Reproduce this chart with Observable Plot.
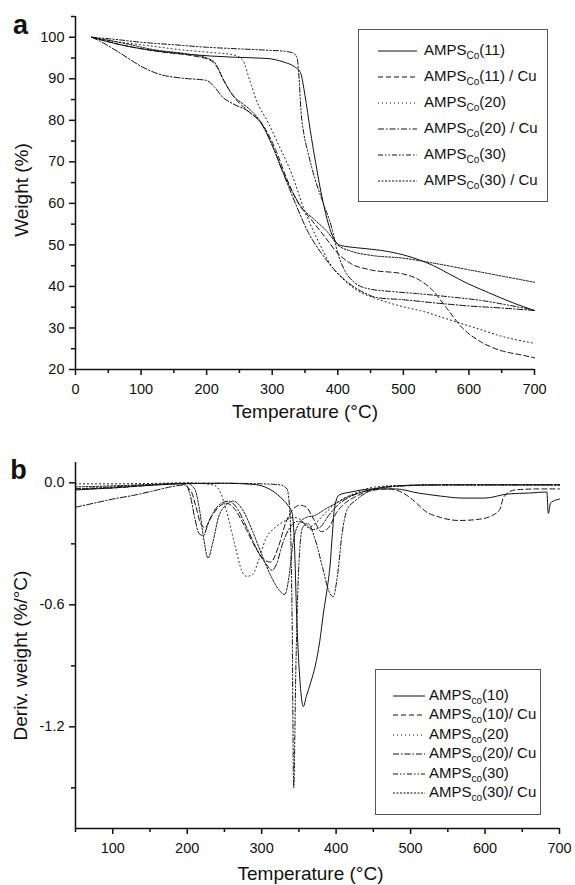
<!DOCTYPE html>
<html><head><meta charset="utf-8">
<script src="https://cdn.jsdelivr.net/npm/d3@7"></script>
<script src="https://cdn.jsdelivr.net/npm/@observablehq/plot@0.6"></script>
<style>
body{margin:0;background:#fff;}
#wrap{position:relative;width:575px;height:885px;font-family:"Liberation Sans",Arial,Helvetica,sans-serif;color:#111;overflow:hidden;}
.plot{position:absolute;left:0;}
.legend{position:absolute;border:1px solid #555;box-sizing:border-box;background:#fff;}
.row{position:absolute;left:0;right:0;height:0;}
.row svg{position:absolute;top:-3px;overflow:visible;}
.row span{position:absolute;top:0;font-size:15px;line-height:15px;transform:translateY(-60%);white-space:nowrap;}
.row sub{font-size:10px;vertical-align:-4px;line-height:0;}
</style></head><body><div id="wrap"></div>
<script>
// ---------- panel a: TGA ----------
const tgaNames = ["(11)", "(11) / Cu", "(20)", "(20) / Cu", "(30)", "(30) / Cu"];
const tga11 = [[25,100],[60,98.5],[114,96.9],[170,95.9],[241,95.2],[292,94.9],[318,94],[333,93],[343,91.5],[350,86],[358,77.6],[366,70],[374,63],[384,56],[393,51.8],[404,49.9],[430,49.3],[465,48.7],[500,47.6],[526,46.3],[546,45],[570,43],[598,40.7],[630,38.5],[668,36],[700,34.2]];
const tga11Cu = [[25,100],[75,98],[130,96.5],[180,95.5],[205,94.5],[215,93],[228,89],[245,85],[265,82],[285,79],[305,73],[322,66],[340,60],[360,56],[380,52],[400,48],[420,45.5],[450,44],[500,43],[525,41.5],[545,39],[565,35],[590,30],[620,26.5],[650,24.5],[680,23.5],[700,22.8]];
const tga20 = [[25,100],[60,99],[110,98],[160,97],[210,96.3],[240,95.8],[255,94.5],[265,90],[278,84],[292,80],[310,74],[330,67],[350,58],[370,51],[390,45],[410,41.5],[430,39],[455,37.3],[490,35.5],[530,34],[570,32],[610,30],[650,28],[700,26.3]];
const tga20Cu = [[25,100],[38,99],[70,96],[100,93],[130,91],[160,90.2],[200,89.6],[212,88],[225,85.5],[240,84],[265,82],[282,79.5],[300,74],[320,66],[338,59],[355,53],[375,48],[395,44],[415,41],[440,38.5],[460,37.3],[500,36.8],[550,36],[600,35.3],[650,34.8],[700,34.2]];
const tga30 = [[25,100],[60,99.5],[100,98.8],[150,98.2],[200,97.6],[250,97.2],[290,96.9],[320,96.6],[332,96.2],[338,95],[341,90],[344,82],[348,77],[355,72],[365,66],[378,60],[391,54],[400,48],[410,44],[425,41],[445,39.5],[480,38.8],[520,38.3],[570,37.5],[620,36.6],[660,35.5],[700,34.3]];
const tga30Cu = [[25,100],[75,98.5],[120,97],[170,96],[200,95],[212,94],[225,90],[240,86],[255,84],[270,82],[285,79],[300,74],[315,68],[330,63],[345,59],[365,56],[385,53],[400,50],[420,48.5],[450,47.5],[500,46.8],[550,45.5],[600,44],[650,42.5],[700,41]];
const tgaSeries = [tga11, tga11Cu, tga20, tga20Cu, tga30, tga30Cu];
const xTicksA = [0,100,200,300,400,500,600,700];
const xMinorA = [50,150,250,350,450,550,650];
const yTicksA = [20,30,40,50,60,70,80,90,100];
const yMinorA = [25,35,45,55,65,75,85,95,105];

// ---------- panel b: DTG ----------
const dtgNames = ["(10)", "(10)/ Cu", "(20)", "(20)/ Cu", "(30)", "(30)/ Cu"];
const dtg10 = [[50,-0.035],[100,-0.025],[150,-0.012],[200,-0.004],[250,-0.002],[290,-0.008],[310,-0.03],[325,-0.07],[335,-0.11],[341,-0.15],[344,-0.3],[347,-0.65],[351,-0.95],[356,-1.10],[360,-1.05],[366,-0.98],[372,-0.9],[378,-0.78],[383,-0.64],[388,-0.52],[392,-0.4],[395,-0.25],[398,-0.12],[404,-0.06],[420,-0.045],[450,-0.03],[480,-0.03],[510,-0.05],[540,-0.065],[570,-0.075],[600,-0.075],[630,-0.055],[660,-0.05],[683,-0.045],[685,-0.15],[688,-0.1],[695,-0.085],[700,-0.08]];
const dtg10Cu = [[50,-0.03],[100,-0.025],[150,-0.012],[190,-0.003],[205,-0.04],[212,-0.12],[218,-0.2],[224,-0.22],[232,-0.17],[242,-0.12],[252,-0.1],[264,-0.13],[278,-0.22],[292,-0.32],[304,-0.38],[312,-0.39],[322,-0.32],[332,-0.2],[342,-0.13],[352,-0.11],[360,-0.12],[370,-0.18],[380,-0.24],[390,-0.22],[400,-0.15],[412,-0.1],[425,-0.07],[445,-0.04],[470,-0.03],[490,-0.05],[505,-0.09],[520,-0.14],[540,-0.17],[565,-0.185],[590,-0.18],[610,-0.16],[620,-0.13],[625,-0.07],[640,-0.035],[670,-0.03],[700,-0.03]];
const dtg20 = [[50,-0.005],[100,-0.005],[150,-0.003],[200,0],[235,-0.01],[245,-0.05],[255,-0.17],[265,-0.32],[273,-0.43],[280,-0.46],[288,-0.45],[296,-0.38],[305,-0.28],[318,-0.22],[330,-0.19],[342,-0.17],[352,-0.18],[362,-0.22],[372,-0.2],[385,-0.15],[400,-0.1],[420,-0.06],[440,-0.03],[470,-0.015],[550,-0.01],[650,-0.01],[700,-0.01]];
const dtg20Cu = [[50,-0.12],[75,-0.1],[100,-0.08],[130,-0.06],[160,-0.035],[185,-0.015],[198,-0.01],[204,-0.06],[210,-0.17],[216,-0.25],[222,-0.26],[228,-0.2],[236,-0.14],[246,-0.1],[256,-0.09],[266,-0.12],[280,-0.22],[294,-0.33],[306,-0.4],[314,-0.43],[320,-0.4],[328,-0.3],[338,-0.22],[348,-0.19],[358,-0.2],[368,-0.23],[378,-0.22],[390,-0.16],[402,-0.11],[418,-0.07],[440,-0.04],[470,-0.02],[520,-0.01],[700,-0.01]];
const dtg30 = [[50,-0.03],[100,-0.02],[150,-0.01],[200,-0.002],[250,-0.002],[300,-0.005],[325,-0.01],[334,-0.03],[338,-0.15],[341,-0.7],[343,-1.5],[346,-0.9],[350,-0.4],[355,-0.22],[362,-0.2],[372,-0.28],[382,-0.42],[390,-0.53],[396,-0.56],[402,-0.45],[408,-0.25],[415,-0.13],[425,-0.09],[440,-0.05],[470,-0.02],[550,-0.01],[700,-0.01]];
const dtg30Cu = [[50,-0.02],[100,-0.015],[150,-0.008],[200,-0.003],[210,-0.03],[216,-0.12],[222,-0.27],[228,-0.37],[234,-0.3],[242,-0.17],[252,-0.11],[262,-0.09],[274,-0.13],[288,-0.24],[302,-0.37],[314,-0.47],[324,-0.53],[331,-0.55],[336,-0.48],[342,-0.3],[350,-0.2],[360,-0.17],[372,-0.16],[385,-0.13],[400,-0.1],[415,-0.07],[430,-0.05],[450,-0.03],[480,-0.015],[550,-0.01],[700,-0.01]];
const dtgSeries = [dtg10, dtg10Cu, dtg20, dtg20Cu, dtg30, dtg30Cu];
const xTicksB = [100,200,300,400,500,600,700];
const xMinorB = [50,150,250,350,450,550,650];
const yTicksB = [0,-0.6,-1.2];
const yMinorB = [-0.3,-0.9,-1.5];

// ---------- styles ----------
const dashes = [null, "5,3", "1,3", "6,2,1.5,2", "5,2,1.5,2,1.5,2", "2,1.5"];
const ink = "#111";
const fontFamily = '"Liberation Sans", Arial, Helvetica, sans-serif';

function lines(series) {
  return series.map((s, i) => Plot.line(s, {
    x: d => d[0], y: d => d[1], curve: "monotone-x",
    stroke: ink, strokeWidth: 1, strokeDasharray: dashes[i] || undefined
  }));
}
function axes(xT, xM, yT, yM, x0, y0, yFmt) {
  return [
    Plot.ruleX([x0], {stroke: ink, strokeWidth: 1.5}),
    Plot.ruleY([y0], {stroke: ink, strokeWidth: 1.5}),
    Plot.axisX(xT, {tickSize: 6, tickPadding: 8, fontSize: 14.5, label: null, stroke: ink, strokeWidth: 1.5, fill: ink}),
    Plot.axisX(xM, {tickSize: 4, tickFormat: () => "", label: null, stroke: ink, strokeWidth: 1.5}),
    Plot.axisY(yT, {tickSize: 6, tickPadding: 5, fontSize: 14.5, label: null, stroke: ink, strokeWidth: 1.5, fill: ink, tickFormat: yFmt}),
    Plot.axisY(yM, {tickSize: 4, tickFormat: () => "", label: null, stroke: ink, strokeWidth: 1.5})
  ];
}

const plotA = Plot.plot({
  width: 575, height: 430,
  marginLeft: 75, marginRight: 41, marginTop: 16, marginBottom: 61,
  x: {domain: [0, 700]},
  y: {domain: [20, 105]},
  style: {fontFamily, fontSize: "14.5px", background: "transparent", color: ink},
  marks: [
    ...lines(tgaSeries),
    ...axes(xTicksA, xMinorA, yTicksA, yMinorA, 0, 20, d => String(d)),
    Plot.text(["Temperature (°C)"], {text: d => d, frameAnchor: "bottom", textAnchor: "middle", dy: 42, lineAnchor: "middle", fontSize: 19, fill: ink}),
    Plot.text(["Weight (%)"], {text: d => d, frameAnchor: "left", textAnchor: "middle", dx: -54, dy: -3, rotate: -90, lineAnchor: "middle", fontSize: 19, fill: ink}),
    Plot.text(["a"], {text: d => d, frameAnchor: "top-left", textAnchor: "middle", dx: -55, dy: 9, lineAnchor: "middle", fontSize: 27, fontWeight: "bold", fill: ink})
  ]
});

const plotB = Plot.plot({
  width: 575, height: 455,
  marginLeft: 75, marginRight: 16, marginTop: 32, marginBottom: 57,
  x: {domain: [50, 700]},
  y: {domain: [-1.7, 0.1]},
  style: {fontFamily, fontSize: "14.5px", background: "transparent", color: ink},
  marks: [
    ...lines(dtgSeries),
    ...axes(xTicksB, xMinorB, yTicksB, yMinorB, 50, -1.7, d => d.toFixed(1)),
    Plot.text(["Temperature (°C)"], {text: d => d, frameAnchor: "bottom", textAnchor: "middle", dx: -7, dy: 45, lineAnchor: "middle", fontSize: 19, fill: ink}),
    Plot.text(["Deriv. weight (%/°C)"], {text: d => d, frameAnchor: "left", textAnchor: "middle", dx: -55, dy: 10, rotate: -90, lineAnchor: "middle", fontSize: 19, fill: ink}),
    Plot.text(["b"], {text: d => d, frameAnchor: "top-left", textAnchor: "middle", dx: -57, dy: 8, lineAnchor: "middle", fontSize: 27, fontWeight: "bold", fill: ink})
  ]
});

const wrap = document.getElementById("wrap");
plotA.classList.add("plot"); plotA.style.top = "0px";
plotB.classList.add("plot"); plotB.style.top = "430px";
wrap.appendChild(plotA);
wrap.appendChild(plotB);

function legend(names, sub, box, rows, sample) {
  const div = document.createElement("div");
  div.className = "legend";
  Object.assign(div.style, {left: box[0] + "px", top: box[1] + "px", width: box[2] + "px", height: box[3] + "px"});
  names.forEach((n, i) => {
    const row = document.createElement("div");
    row.className = "row";
    row.style.top = (rows[0] + i * rows[1]) + "px";
    const svg = d3.create("svg").attr("width", sample[1]).attr("height", 6)
      .style("left", sample[0] + "px");
    svg.append("line").attr("x1", 0).attr("x2", sample[1]).attr("y1", 3).attr("y2", 3)
      .attr("stroke", ink).attr("stroke-width", 1)
      .attr("stroke-dasharray", dashes[i]);
    row.appendChild(svg.node());
    const span = document.createElement("span");
    span.style.left = sample[2] + "px";
    span.innerHTML = "AMPS<sub>" + sub + "</sub>" + n;
    row.appendChild(span);
    div.appendChild(row);
  });
  wrap.appendChild(div);
}
legend(tgaNames, "Co", [358, 29, 190, 173], [21, 26], [19, 39, 65]);
legend(dtgNames, "co", [375, 669, 166, 146], [26, 19.4], [17, 32, 53]);
</script>
</body></html>
